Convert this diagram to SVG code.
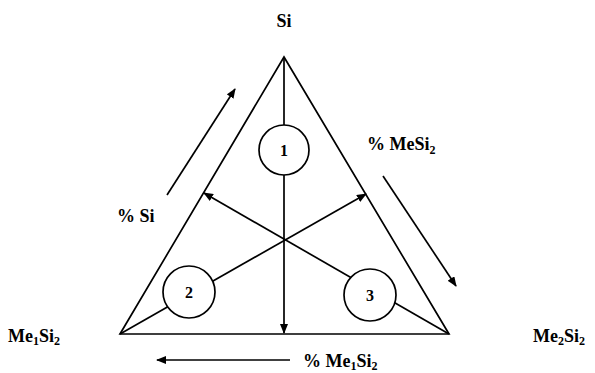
<svg xmlns="http://www.w3.org/2000/svg" width="595" height="373" viewBox="0 0 595 373">
<style>
.ln{stroke:#000;stroke-width:1.7;fill:none}
.ar{marker-end:url(#ah)}
.c{fill:#fff;stroke:#000;stroke-width:1.7}
text{font-family:"Liberation Serif","Times New Roman",serif;font-weight:bold;fill:#000}
.lb{font-size:18px}
.n{font-size:16px;text-anchor:middle}
</style>
<defs>
<marker id="ah" markerUnits="userSpaceOnUse" markerWidth="10" markerHeight="8" refX="9" refY="4" orient="auto">
<path d="M0,0 L10,4 L0,8 z" fill="#000"/>
</marker>
</defs>
<rect width="595" height="373" fill="#fff"/>
<g id="connectors">
<polygon class="ln" points="284,57 120,334 449,334"/>
<line class="ln ar" x1="284" y1="57" x2="284" y2="333"/>
<line class="ln ar" x1="120" y1="334" x2="366" y2="194"/>
<line class="ln ar" x1="449" y1="334" x2="204" y2="193"/>
<line class="ln ar" x1="167" y1="195" x2="235" y2="89"/>
<line class="ln ar" x1="383" y1="176" x2="456" y2="286"/>
<line class="ln ar" x1="290" y1="360" x2="157" y2="360"/>
</g>
<g id="node1"><circle class="c" cx="284" cy="150" r="25"/><text class="n" x="284" y="156">1</text></g>
<g id="node2"><circle class="c" cx="189" cy="292" r="26"/><text class="n" x="189" y="298">2</text></g>
<g id="node3"><circle class="c" cx="370" cy="295" r="26"/><text class="n" x="370" y="301">3</text></g>
<g id="labels">
<text class="lb" x="284" y="27" text-anchor="middle" font-size="19">Si</text>
<text class="lb" x="367" y="150">% MeSi<tspan font-size="12" dy="4">2</tspan></text>
<text class="lb" x="117" y="222">% Si</text>
<text class="lb" x="8" y="342">Me<tspan font-size="12" dy="3">1</tspan><tspan dy="-3">Si</tspan><tspan font-size="12" dy="3">2</tspan></text>
<text class="lb" x="533" y="342">Me<tspan font-size="12" dy="3">2</tspan><tspan dy="-3">Si</tspan><tspan font-size="12" dy="3">2</tspan></text>
<text class="lb" x="303" y="367">% Me<tspan font-size="12" dy="3">1</tspan><tspan dy="-3">Si</tspan><tspan font-size="12" dy="3">2</tspan></text>
</g>
</svg>
